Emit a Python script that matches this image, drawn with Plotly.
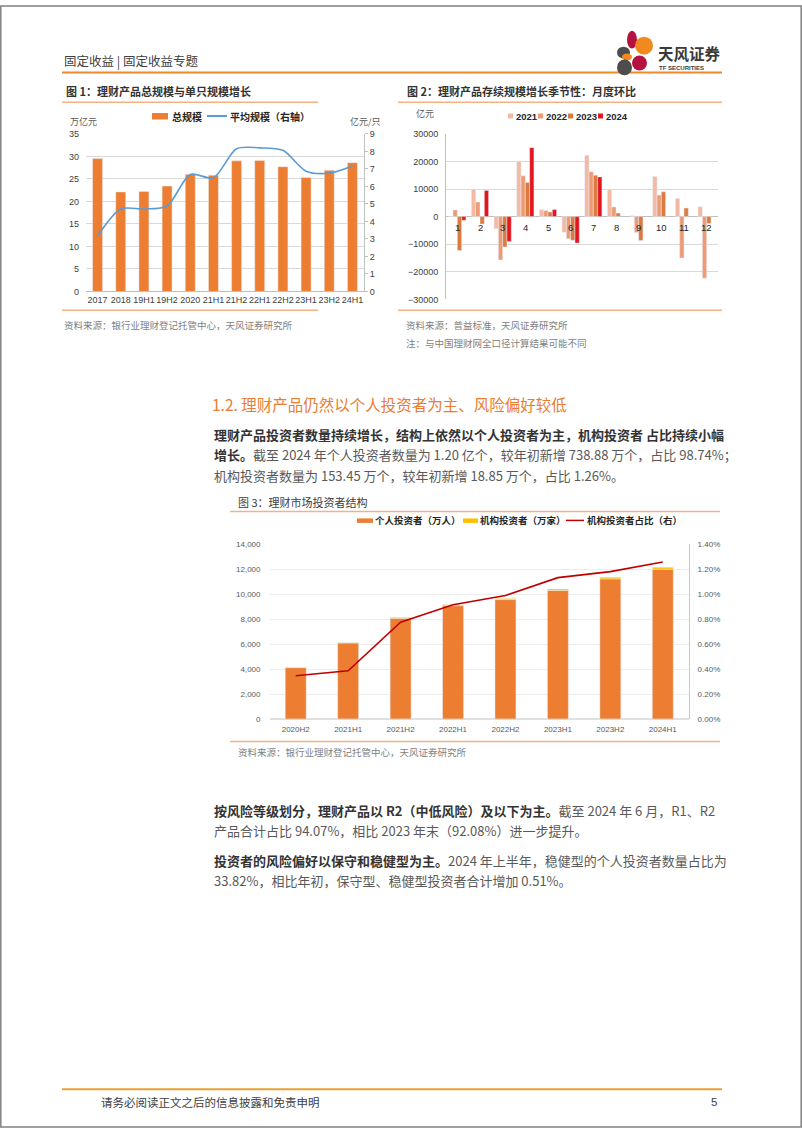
import plotly.graph_objects as go

W, H = 802, 1133

# ---------------- data ----------------
c1_cats = ['2017', '2018', '19H1', '19H2', '2020', '21H1', '21H2', '22H1', '22H2', '23H1', '23H2', '24H1']
c1_total = [29.5, 22.1, 22.2, 23.4, 26.0, 25.8, 29.0, 29.1, 27.7, 25.3, 26.9, 28.6]
c1_avg = [3.17, 4.71, 4.71, 4.88, 6.68, 6.49, 8.15, 8.20, 8.06, 6.87, 6.76, 7.17]

months = ['1', '2', '3', '4', '5', '6', '7', '8', '9', '10', '11', '12']
m2021 = [0, 10000, -4400, 20000, 2500, -5700, 22200, 9800, 300, 14500, 6600, 3600]
m2022 = [2400, 5300, -15700, 14800, 2200, -8000, 16300, 3500, -5800, 7800, -15000, -22300]
m2023 = [-12300, -2700, -11000, 12400, 1700, -8600, 15000, 1300, -8700, 9000, 3100, -2500]
m2024 = [-1300, 9500, -9000, 25000, 2600, -9600, 14400, None, None, None, None, None]
years = ['2021', '2022', '2023', '2024']

c3_cats = ['2020H2', '2021H1', '2021H2', '2022H1', '2022H2', '2023H1', '2023H2', '2024H1']
indiv = [4120, 6100, 8075, 9090, 9580, 10310, 11240, 12015]
inst = [14.5, 23.6, 63, 84, 96, 117, 134.6, 153.45]
share = [0.00347, 0.00387, 0.00777, 0.00917, 0.00991, 0.01134, 0.01182, 0.0126]

# ---------------- helpers ----------------
def px(x):
    return x / W

def py(y):
    return 1 - y / H

CJK = "Noto Sans CJK SC"
NUM = "Liberation Sans, Noto Sans CJK SC"
ORANGE = '#ED7D31'
annots = []
shapes = []

def text(x, y, s, size=10, color='#404040', anchor='left', family=CJK, bold=False):
    if bold:
        s = '<b>' + s + '</b>'
    annots.append(dict(x=px(x), y=py(y), xref='paper', yref='paper', text=s, showarrow=False,
                       xanchor=anchor, yanchor='middle', borderpad=0,
                       font=dict(size=size, color=color, family=family)))

def hline(x0, x1, y, color, width=1.5):
    shapes.append(dict(type='line', xref='paper', yref='paper', x0=px(x0), x1=px(x1), y0=py(y), y1=py(y),
                       line=dict(color=color, width=width)))

def rect(x0, x1, y0, y1, color):
    shapes.append(dict(type='rect', xref='paper', yref='paper', x0=px(x0), x1=px(x1), y0=py(y0), y1=py(y1),
                       line=dict(width=0), fillcolor=color))

def ell(x0, x1, y0, y1, color):
    shapes.append(dict(type='circle', xref='paper', yref='paper', x0=px(x0), x1=px(x1), y0=py(y0), y1=py(y1),
                       line=dict(width=0), fillcolor=color))

fig = go.Figure()

# ---------------- chart 1 ----------------
fig.add_trace(go.Bar(x=c1_cats, y=c1_total, name='总规模', marker_color=ORANGE, width=0.43,
                     xaxis='x', yaxis='y'))
fig.add_trace(go.Scatter(x=c1_cats, y=c1_avg, name='平均规模（右轴）', mode='lines',
                         line=dict(color='#5B9BD5', width=1.6, shape='spline', smoothing=0.8),
                         xaxis='x', yaxis='y2'))

# ---------------- chart 2 ----------------
c2_colors = ['#F4B9A3', '#EE9B74', '#DD7A3E', '#E5151E']
for yr, vals, col in zip(years, [m2021, m2022, m2023, m2024], c2_colors):
    fig.add_trace(go.Bar(x=months, y=vals, name=yr, marker_color=col, xaxis='x2', yaxis='y3'))

# ---------------- chart 3 ----------------
fig.add_trace(go.Bar(x=c3_cats, y=indiv, name='个人投资者（万人）', marker_color=ORANGE, width=0.4,
                     offsetgroup='c3', xaxis='x3', yaxis='y4'))
fig.add_trace(go.Bar(x=c3_cats, y=inst, base=indiv, name='机构投资者（万家）', marker_color='#FFC000', width=0.4,
                     offsetgroup='c3', xaxis='x3', yaxis='y4'))
fig.add_trace(go.Scatter(x=c3_cats, y=share, name='机构投资者占比（右）', mode='lines',
                         line=dict(color='#C00000', width=1.6), xaxis='x3', yaxis='y5'))

tick9 = dict(size=9, color='#404040', family=NUM)
tick8 = dict(size=8, color='#595959', family=NUM)

fig.update_layout(
    width=W, height=H, autosize=False,
    margin=dict(l=0, r=0, t=0, b=0),
    paper_bgcolor='white', plot_bgcolor='white',
    showlegend=False, barmode='group', bargap=0.24, bargroupgap=0,
    font=dict(family=CJK, size=9, color='#404040'),
    xaxis=dict(domain=[px(86), px(364)], anchor='y', type='category', tickfont=tick9, tickangle=0,
               showline=True, linecolor='#BFBFBF', linewidth=1, ticks='', showgrid=False),
    yaxis=dict(domain=[py(289), py(130)], anchor='x', range=[0, 35], dtick=5, tickfont=tick9,
               showgrid=True, gridcolor='#D9D9D9', gridwidth=1, zeroline=False, showline=False,
               ticklabelstandoff=6),
    yaxis2=dict(overlaying='y', side='right', anchor='x', range=[0, 9], dtick=1, tickfont=tick9,
                showgrid=False, zeroline=False, showline=True, linecolor='#BFBFBF', linewidth=1,
                ticks='outside', ticklen=3, tickcolor='#BFBFBF'),
    xaxis2=dict(domain=[px(446), px(718)], anchor='y3', type='category', showticklabels=False,
                showline=False, showgrid=False, ticks=''),
    yaxis3=dict(domain=[py(297), py(130)], anchor='x2', range=[-30000, 30000], dtick=10000, tickformat='d',
                tickfont=tick9, showgrid=True, gridcolor='#D9D9D9', zeroline=True, zerolinecolor='#BFBFBF',
                zerolinewidth=1, showline=True, linecolor='#BFBFBF', linewidth=1, ticklabelstandoff=5),
    xaxis3=dict(domain=[px(269.5), px(689)], anchor='y4', type='category', tickfont=tick8, tickangle=0,
                showline=False, showgrid=False, ticks='', ticklabelstandoff=4),
    yaxis4=dict(domain=[py(720.3), py(544.3)], anchor='x3', range=[0, 14000], dtick=2000, tickformat=',',
                tickfont=tick8, showgrid=True, gridcolor='#EDEDED', zeroline=True, zerolinecolor='#E0E0E0',
                showline=False, ticklabelstandoff=8),
    yaxis5=dict(overlaying='y4', side='right', anchor='x3', range=[0, 0.014], dtick=0.002, tickformat='.2%',
                tickfont=tick8, showgrid=False, zeroline=False, showline=True, linecolor='#C8C8C8',
                linewidth=1, ticklabelstandoff=6),
)

# month labels for chart 2 sit on the zero line (category index positions)
for i, m in enumerate(months):
    annots.append(dict(x=i, y=0, xref='x2', yref='y3', text=m, showarrow=False, yshift=-11,
                       font=dict(size=9.5, color='#262626', family=NUM)))

# ---------------- page decorations ----------------
shapes.append(dict(type='rect', xref='paper', yref='paper', x0=0.001, x1=0.999, y0=0.001, y1=0.999,
                   line=dict(color='#808080', width=1.5)))
# header
text(63, 56, '固定收益 | 固定收益专题', size=12.5, color='#404040')
hline(62, 722, 68, '#EE8A2B', 2)
# logo
ell(627, 637, 26, 44, '#B5123F')
ell(635, 653, 32, 50, '#F08A1E')
ell(617, 630, 42, 54, '#4D4D4D')
ell(622, 632, 49, 56, '#F08A1E')
ell(632, 647, 51, 66, '#B5123F')
ell(617, 632, 55, 71, '#4D4D4D')
text(657, 48, '天风证券', size=15.5, color='#3A3A3A', bold=True)
text(658, 63.5, 'TF SECURITIES', size=6, color='#3A3A3A', family=NUM, bold=True)

# chart 1 frame
text(65, 87, '图 1：理财产品总规模与单只规模增长', size=11, color='#333333', bold=True)
hline(62, 318, 98, '#F4B183', 1.5)
rect(152, 168, 109, 115.5, ORANGE)
text(171, 112, '总规模', size=10, color='#262626', bold=True)
hline(207, 227, 112, '#5B9BD5', 2)
text(229, 112, '平均规模（右轴）', size=10, color='#262626', bold=True)
text(69, 118, '万亿元', size=9, color='#595959')
text(349, 118, '亿元/只', size=9, color='#595959')
hline(62, 318, 308, '#F4B183', 1.5)
text(63, 323, '资料来源：银行业理财登记托管中心，天风证券研究所', size=9.5, color='#7F7F7F')

# chart 2 frame
text(406, 87, '图 2：理财产品存续规模增长季节性：月度环比', size=11, color='#333333', bold=True)
hline(398, 722, 98, '#F4B183', 1.5)
text(415, 109, '亿元', size=9, color='#595959')
for i, (yr, col) in enumerate(zip(years, c2_colors)):
    x0 = 508 + i * 30
    rect(x0, x0 + 5, 109.5, 114.5, col)
    text(x0 + 6.5, 112, yr, size=9.5, color='#262626', family=NUM, bold=True)
hline(398, 722, 308, '#F4B183', 1.5)
text(405, 323, '资料来源：普益标准，天风证券研究所', size=9.5, color='#7F7F7F')
text(405, 341, '注：与中国理财网全口径计算结果可能不同', size=9.5, color='#7F7F7F')

# section text
text(211, 403, '1.2. 理财产品仍然以个人投资者为主、风险偏好较低', size=15.5, color='#EC7C30')
para_dark = '#333333'
para_grey = '#595959'
text(213, 433, '理财产品投资者数量持续增长，结构上依然以个人投资者为主，机构投资者 占比持续小幅',
     size=13, color=para_dark, bold=True)
text(213, 454, '<b>增长。</b>截至 2024 年个人投资者数量为 1.20 亿个，较年初新增 738.88 万个，占比 98.74%；',
     size=13, color=para_grey)
text(213, 475, '机构投资者数量为 153.45 万个，较年初新增 18.85 万个，占比 1.26%。', size=13, color=para_grey)

# chart 3 frame
text(237, 501, '图 3：理财市场投资者结构', size=11, color='#404040')
hline(230, 720, 511, '#F4B183', 1.5)
rect(357, 373, 518, 522.5, ORANGE)
text(374, 520, '个人投资者（万人）', size=9.5, color='#262626', bold=True)
rect(463, 478, 518, 522.5, '#FFC000')
text(479, 520, '机构投资者（万家）', size=9.5, color='#262626', bold=True)
hline(566, 584, 520, '#C00000', 1.5)
text(586, 520, '机构投资者占比（右）', size=9.5, color='#262626', bold=True)
hline(230, 720, 743, '#F4B183', 1.5)
text(237, 754, '资料来源：银行业理财登记托管中心，天风证券研究所', size=9.5, color='#7F7F7F')

# later paragraphs
text(213, 813, '<b>按风险等级划分，理财产品以 R2（中低风险）及以下为主。</b>截至 2024 年 6 月，R1、R2',
     size=13, color=para_grey)
text(213, 833, '产品合计占比 94.07%，相比 2023 年末（92.08%）进一步提升。', size=13, color=para_grey)
text(213, 863, '<b>投资者的风险偏好以保守和稳健型为主。</b>2024 年上半年，稳健型的个人投资者数量占比为',
     size=13, color=para_grey)
text(213, 883, '33.82%，相比年初，保守型、稳健型投资者合计增加 0.51%。', size=13, color=para_grey)

# footer
hline(62, 722, 1094, '#E8A033', 2)
text(100, 1107, '请务必阅读正文之后的信息披露和免责申明', size=11.5, color='#404040')
text(718, 1107, '5', size=11.5, color='#404040', anchor='right', family=NUM)

# make bold spans in grey paragraphs darker
for a in annots:
    if isinstance(a.get('text'), str) and '<b>' in a['text'] and a['font']['color'] == para_grey:
        a['text'] = a['text'].replace('<b>', '<b><span style="color:#333333">').replace('</b>', '</span></b>')

fig.update_layout(annotations=annots, shapes=shapes)
fig.write_html("out.html", config={'displayModeBar': False},
               post_script="document.body.style.margin='0';document.body.style.overflow='hidden';")
